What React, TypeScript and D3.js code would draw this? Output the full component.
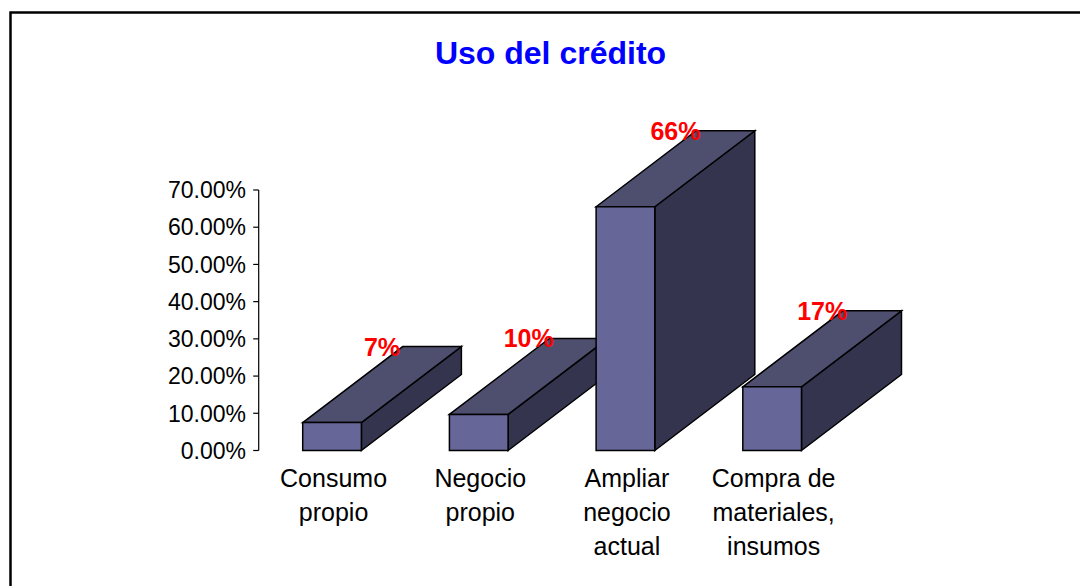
import React from "react";
import * as d3 from "d3";

const categories = ["Consumo propio", "Negocio propio", "Ampliar negocio actual", "Compra de materiales, insumos"];
const categoryLines = [["Consumo", "propio"], ["Negocio", "propio"], ["Ampliar", "negocio", "actual"], ["Compra de", "materiales,", "insumos"]];
const values = [0.075, 0.097, 0.655, 0.171];
const valueLabels = ["7%", "10%", "66%", "17%"];
const yTicks = [0, 0.1, 0.2, 0.3, 0.4, 0.5, 0.6, 0.7];
const title = "Uso del crédito";

const W = 1080;
const H = 586;
const X0 = 258.7;
const X1 = 845.5;
const Y0 = 450.5;
const Y1 = 190;
const DX = 100;
const DY = -76;
const FONT = "Arial, 'Liberation Sans', Helvetica, sans-serif";

export default function App() {
  const x = d3.scaleBand<string>().domain(categories).range([X0, X1]).paddingInner(0.6).paddingOuter(0.3);
  const y = d3.scaleLinear().domain([0, 0.7]).range([Y0, Y1]);
  const fmt = d3.format(".2%");
  const bw = x.bandwidth();

  return (
    <svg width={W} height={H} style={{ position: "fixed", left: 0, top: 0, background: "#fff" }}>
      <rect x={0} y={0} width={W} height={H} fill="#fff" />
      <path d={`M10.5,${H + 10} V12.5 H${W + 10}`} fill="none" stroke="#000" strokeWidth={2.5} />
      <text x={550.5} y={63.5} textAnchor="middle" fontFamily={FONT} fontWeight="bold" fontSize={32} fill="#0000ff">
        {title}
      </text>

      {/* y axis */}
      <line x1={X0} x2={X0} y1={y(0)} y2={y(0.7)} stroke="#000" strokeWidth={1.2} />
      {yTicks.map((t) => (
        <g key={t}>
          <line x1={X0 - 5.5} x2={X0} y1={y(t)} y2={y(t)} stroke="#000" strokeWidth={1.2} />
          <text x={246} y={y(t)} dy="0.36em" textAnchor="end" fontFamily={FONT} fontSize={23} fill="#000">
            {fmt(t)}
          </text>
        </g>
      ))}

      {/* bars */}
      {categories.map((c, i) => {
        const xl = x(c)!;
        const xr = xl + bw;
        const yt = y(values[i]);
        const yb = y(0);
        const front = `M${xl},${yb} L${xr},${yb} L${xr},${yt} L${xl},${yt} Z`;
        const top = `M${xl},${yt} L${xl + DX},${yt + DY} L${xr + DX},${yt + DY} L${xr},${yt} Z`;
        const side = `M${xr},${yb} L${xr + DX},${yb + DY} L${xr + DX},${yt + DY} L${xr},${yt} Z`;
        return (
          <g key={c} stroke="#000" strokeWidth={1.5} strokeLinejoin="miter">
            <path d={side} fill="#34344f" />
            <path d={top} fill="#4e4e6f" />
            <path d={front} fill="#666699" />
          </g>
        );
      })}

      {/* value labels */}
      {categories.map((c, i) => (
        <text
          key={c}
          x={x(c)! + bw / 2 + DX / 2}
          y={y(values[i]) + DY}
          dy="0.36em"
          textAnchor="middle"
          fontFamily={FONT}
          fontWeight="bold"
          fontSize={25}
          fill="#ff0000"
        >
          {valueLabels[i]}
        </text>
      ))}

      {/* category labels */}
      {categories.map((c, i) => (
        <text key={c} textAnchor="middle" fontFamily={FONT} fontSize={25} fill="#000">
          {categoryLines[i].map((ln, j) => (
            <tspan key={j} x={x(c)! + bw / 2 + 1.5} y={487 + j * 34}>
              {ln}
            </tspan>
          ))}
        </text>
      ))}
    </svg>
  );
}
